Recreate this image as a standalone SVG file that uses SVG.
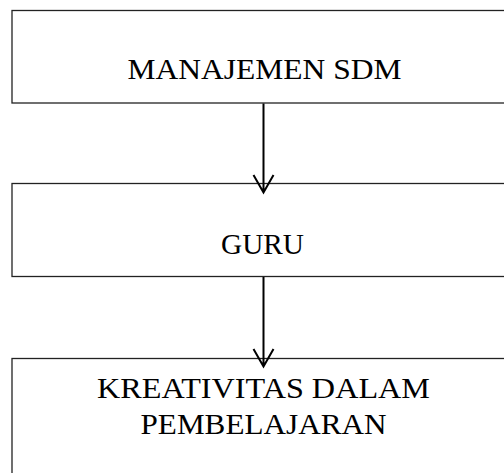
<svg xmlns="http://www.w3.org/2000/svg" width="504" height="473" viewBox="0 0 504 473">
<style>
.box{fill:#fff;stroke:#222;stroke-width:1.3}
.lbl{font-family:"Liberation Serif","Times New Roman",serif;font-size:29.5px;fill:#000;text-anchor:middle}
.con{fill:none;stroke:#000;stroke-width:2}
</style>
<rect width="504" height="473" fill="#fff"/>
<g id="node-manajemen">
<rect class="box" x="12" y="10.5" width="520" height="92.5"/>
<text class="lbl" x="264.5" y="78.5" textLength="274" lengthAdjust="spacingAndGlyphs">MANAJEMEN SDM</text>
</g>
<g id="node-guru">
<rect class="box" x="12" y="183.5" width="520" height="93"/>
<text class="lbl" x="262.5" y="253.5" textLength="83" lengthAdjust="spacingAndGlyphs">GURU</text>
</g>
<g id="node-kreativitas">
<rect class="box" x="12" y="358.5" width="520" height="140"/>
<text class="lbl" x="263.5" y="397.5" textLength="333" lengthAdjust="spacingAndGlyphs">KREATIVITAS DALAM</text>
<text class="lbl" x="263.5" y="433.5" textLength="246" lengthAdjust="spacingAndGlyphs">PEMBELAJARAN</text>
</g>
<g id="connectors">
<path class="con" d="M263.5 103.5V192.5M253.5 175L263.5 192.5L273.5 175"/>
<path class="con" d="M263.5 277V366.5M253.5 349L263.5 366.5L273.5 349"/>
</g>
</svg>
